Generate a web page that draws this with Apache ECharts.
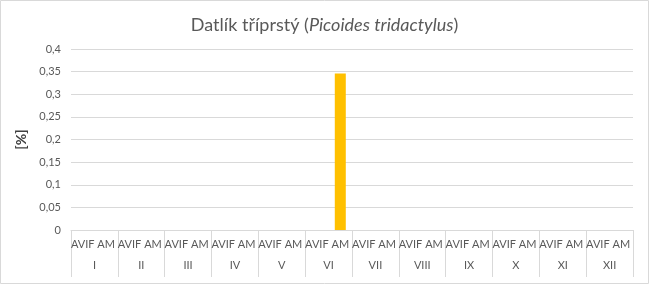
<!DOCTYPE html>
<html><head><meta charset="utf-8">
<script src="https://cdn.jsdelivr.net/npm/echarts@6/dist/echarts.min.js"></script>
<style>html,body{margin:0;padding:0;background:#fff}#c{width:649px;height:284px}</style>
</head><body><div id="c"></div>
<script>
var months = ['I','II','III','IV','V','VI','VII','VIII','IX','X','XI','XII'];
var subCats = ['AVIF','AM'];
var avif = [0,0,0,0,0,0,0,0,0,0,0,0];
var am   = [0,0,0,0,0,0.346,0,0,0,0,0,0];
var yTicks = {min:0, max:0.4, interval:0.05};

var cats = [], vals = [];
months.forEach(function(m,i){
  cats.push(subCats[0]); vals.push(avif[i]);
  cats.push(subCats[1]); vals.push(am[i]);
});
var FONT = 'Lato';
var chart = echarts.init(document.getElementById('c'));
chart.setOption({
  animation:false,
  title:{
    text:'{n|Datlík tříprstý (}{i|Picoides tridactylus}{n|)}',
    left:'center', top:11,
    textStyle:{rich:{
      n:{fontFamily:FONT,fontSize:18,color:'#595959',fontWeight:'normal'},
      i:{fontFamily:FONT,fontSize:18,color:'#595959',fontStyle:'italic',fontWeight:'normal'}
    }}
  },
  graphic:[{type:'rect',shape:{x:0.5,y:0.5,width:648,height:283},style:{fill:'none',stroke:'#d9d9d9',lineWidth:1},silent:true}],
  grid:{left:71,right:16,top:49,bottom:54},
  xAxis:[{
    type:'category', data:cats, position:'bottom',
    axisLine:{show:true,lineStyle:{color:'#d9d9d9'}},
    axisTick:{show:false},
    axisLabel:{interval:0,color:'#595959',fontFamily:FONT,fontSize:11,margin:9}
  },{
    type:'category', data:months, position:'bottom', gridIndex:0,
    axisLine:{show:false},
    axisTick:{show:true,interval:0,length:47,lineStyle:{color:'#d9d9d9'}},
    axisLabel:{interval:0,color:'#595959',fontFamily:FONT,fontSize:11,margin:30}
  }],
  yAxis:{
    type:'value', min:yTicks.min, max:yTicks.max, interval:yTicks.interval,
    name:'[%]', nameLocation:'middle', nameGap:38, nameRotate:90,
    nameTextStyle:{color:'#404040',fontFamily:FONT,fontSize:14,fontWeight:'bold'},
    axisLine:{show:false}, axisTick:{show:false},
    axisLabel:{color:'#595959',fontFamily:FONT,fontSize:11,margin:10,
      formatter:function(v){return String(Math.round(v*100)/100).replace('.',',');}},
    splitLine:{lineStyle:{color:'#d9d9d9'}}
  },
  series:[{type:'bar',data:vals,barWidth:11,itemStyle:{color:'#ffc000'},xAxisIndex:0}]
});
</script></body></html>
